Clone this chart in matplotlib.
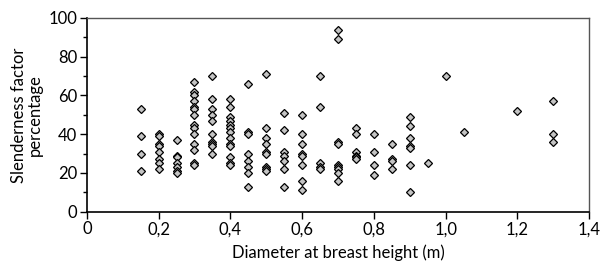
import matplotlib.pyplot as plt
from matplotlib.ticker import MultipleLocator, FuncFormatter

# Data: diameter (m) -> slenderness factor values
dbh = [0.15, 0.2, 0.25, 0.3, 0.35, 0.4, 0.45, 0.5, 0.55, 0.6,
       0.65, 0.7, 0.75, 0.8, 0.85, 0.9, 0.95, 1.0, 1.05, 1.2, 1.3]
slender = [
    [53, 39, 30, 21],
    [40, 39, 35, 34, 31, 27, 25, 22],
    [37, 29, 28, 25, 23, 21, 20],
    [67, 62, 60, 57, 54, 53, 50, 45, 43, 40, 35, 32, 25, 24],
    [70, 58, 53, 50, 47, 40, 36, 35, 34, 30],
    [58, 54, 49, 47, 45, 43, 41, 38, 35, 34, 28, 25, 24],
    [66, 41, 40, 30, 26, 23, 20, 13],
    [71, 43, 38, 35, 31, 30, 23, 22, 21],
    [51, 42, 31, 29, 26, 22, 13],
    [50, 40, 35, 30, 29, 24, 16, 11],
    [70, 54, 25, 23, 22],
    [94, 89, 36, 35, 24, 23, 22, 20, 16],
    [43, 40, 31, 29, 28, 27],
    [40, 31, 24, 19],
    [35, 27, 26, 22],
    [49, 44, 38, 34, 33, 24, 10],
    [25],
    [70],
    [41],
    [52],
    [57, 40, 36],
]

xs = []
ys = []
for d, vals in zip(dbh, slender):
    for v in vals:
        xs.append(d)
        ys.append(v)

plt.rcParams['font.family'] = ['Lato', 'DejaVu Sans']

fig = plt.figure(figsize=(6.03, 2.68), dpi=100)
ax = fig.add_axes([0.144, 0.21, 0.833, 0.723])

ax.plot(xs, ys, linestyle='none', marker='D', markersize=3.8,
        markerfacecolor='#c4c4c4', markeredgecolor='black', markeredgewidth=0.9,
        clip_on=False)

ax.set_xlim(0, 1.4)
ax.set_ylim(0, 100)
ax.xaxis.set_major_locator(MultipleLocator(0.2))
ax.yaxis.set_major_locator(MultipleLocator(20))
ax.yaxis.set_minor_locator(MultipleLocator(10))

def comma(v, pos):
    if abs(v) < 1e-9:
        return '0'
    return ('%.1f' % v).replace('.', ',')

ax.xaxis.set_major_formatter(FuncFormatter(comma))

ax.tick_params(axis='both', which='major', direction='out', length=5, width=1,
               labelsize=12, pad=2, colors='black')
ax.tick_params(axis='y', which='minor', direction='out', length=3, width=1)

for s in ['left', 'bottom']:
    ax.spines[s].set_color('black')
    ax.spines[s].set_linewidth(1.2)
for s in ['top', 'right']:
    ax.spines[s].set_color('#555555')
    ax.spines[s].set_linewidth(1.0)

ax.set_xlabel('Diameter at breast height (m)', fontsize=12, labelpad=5)
ax.set_ylabel('Slenderness factor\npercentage', fontsize=12, labelpad=4,
              linespacing=1.0)

fig.savefig('out.png', dpi=100)
